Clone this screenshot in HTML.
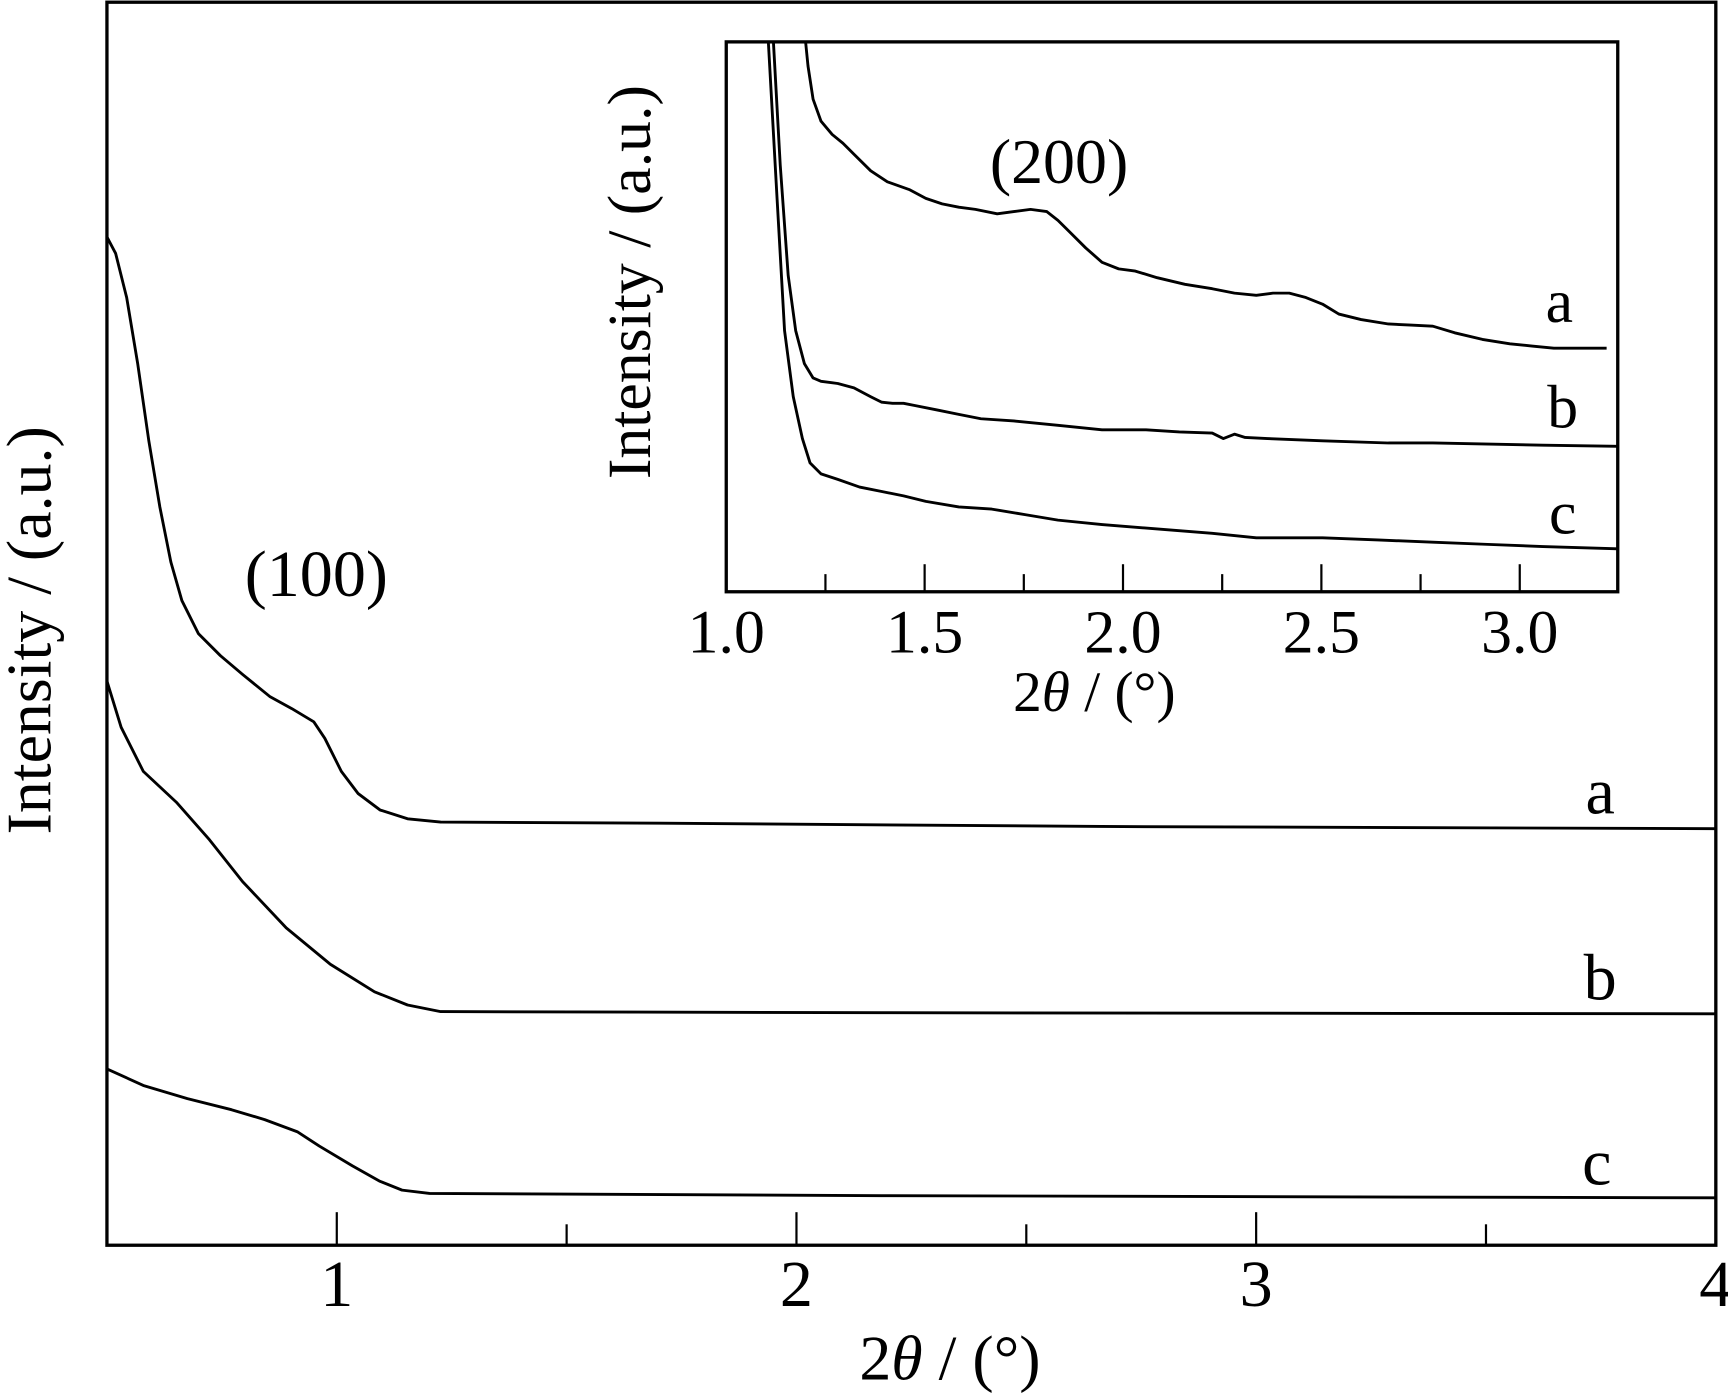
<!DOCTYPE html>
<html><head><meta charset="utf-8"><style>
html,body{margin:0;padding:0;background:#fff;}
svg{display:block;font-family:"Liberation Serif",serif;}
</style></head><body>
<svg id="chart" width="1728" height="1394" viewBox="0 0 1568 1265" xmlns="http://www.w3.org/2000/svg">
<g id="main"></g>
<g id="inset"></g>
</svg>
<script>
// main plot data
const mainTicks = [1, 2, 3, 4];
const mainMinorTicks = [1.5, 2.5, 3.5];
const mainAX = [0.5,0.519,0.543,0.567,0.591,0.615,0.639,0.663,0.699,0.747,0.795,0.854,0.902,0.950,0.974,1.010,1.046,1.094,1.154,1.226,1.705,2.663,4.0];
const mainAY = [915,900,860,800,730,670,620,585,555,535,518,498,487,475,460,430,410,395,387,384,383,380,378];
const mainBX = [0.5,0.531,0.579,0.651,0.723,0.795,0.890,0.986,1.082,1.154,1.226,2.184,4.0];
const mainBY = [512,470,430,402,368,330,288,255,230,218,212,211,210];
const mainCX = [0.5,0.579,0.675,0.771,0.843,0.914,0.962,1.034,1.094,1.142,1.202,2.184,4.0];
const mainCY = [160,145,133,123,114,103,90,72,58,50,47,45,43];
// inset data
const insetTicks = [1.0, 1.5, 2.0, 2.5, 3.0];
const insetMinorTicks = [1.25, 1.75, 2.25, 2.75];
const insetTickLabels = ["1.0","1.5","2.0","2.5","3.0"];
const inAX = [1.200,1.206,1.219,1.239,1.267,1.294,1.322,1.364,1.406,1.461,1.503,1.544,1.586,1.628,1.683,1.725,1.767,1.808,1.836,1.864,1.906,1.947,1.989,2.031,2.086,2.156,2.225,2.281,2.336,2.378,2.419,2.461,2.503,2.544,2.600,2.669,2.725,2.781,2.836,2.906,2.975,3.031,3.086,3.219];
const inAY = [499,477,447,427,415,407,397,382,372,365,357,352,349,347,343,345,347,345,337,327,312,299,293,291,285,279,275,271,269,271,271,267,261,252,247,243,242,241,235,229,225,223,221,221];
const inBX = [1.119,1.136,1.156,1.175,1.197,1.219,1.239,1.281,1.322,1.364,1.392,1.419,1.447,1.475,1.531,1.586,1.642,1.725,1.836,1.947,2.058,2.142,2.225,2.253,2.281,2.308,2.364,2.503,2.669,2.781,3.058,3.247];
const inBY = [499,387,287,237,207,194,191,189,185,177,172,171,171,169,165,161,157,155,151,147,147,145,144,139,143,140,139,137,135,135,133,132];
const inCX = [1.106,1.128,1.147,1.169,1.192,1.211,1.239,1.281,1.336,1.392,1.447,1.503,1.586,1.669,1.753,1.836,1.947,2.086,2.225,2.336,2.503,2.642,2.781,2.919,3.058,3.247];
const inCY = [499,357,237,177,139,117,107,102,95,91,87,82,77,75,70,65,61,57,53,49,49,47,45,43,41,39];

const NS = "http://www.w3.org/2000/svg";
function mk(parent, tag, attrs, text) {
  const e = document.createElementNS(NS, tag);
  for (const k in attrs) e.setAttribute(k, attrs[k]);
  if (text !== undefined) e.textContent = text;
  parent.appendChild(e);
  return e;
}
function plot(g, cfg) {
  const sx = v => cfg.x0 + (v - cfg.d0) / (cfg.d1 - cfg.d0) * (cfg.x1 - cfg.x0);
  const sy = v => cfg.yb - (v - cfg.r0) / (cfg.r1 - cfg.r0) * (cfg.yb - cfg.yt);
  const f = mk(g, "rect", {x: cfg.x0, y: cfg.yt, width: cfg.x1 - cfg.x0, height: cfg.yb - cfg.yt, fill: "none", stroke: "#000", "stroke-width": 3});
  
  
  cfg.ticks.forEach((t, i) => {
    const l = mk(g, "line", {x1: sx(t), x2: sx(t), y1: cfg.yb, y2: cfg.yb - cfg.major, stroke: "#000", "stroke-width": 2});
    
    
    const tx = mk(g, "text", {x: sx(t), y: cfg.labY, "text-anchor": "middle", "font-size": cfg.fs}, cfg.labels[i]);
    
    
  });
  cfg.minor.forEach(t => {
    const l = mk(g, "line", {x1: sx(t), x2: sx(t), y1: cfg.yb, y2: cfg.yb - cfg.minorLen, stroke: "#000", "stroke-width": 2});
    
    
  });
  cfg.series.forEach(s => {
    const pts = s.x.map((v, i) => sx(v).toFixed(1) + "," + sy(s.y[i]).toFixed(1)).join(" ");
    const p = mk(g, "polyline", {points: pts, fill: "none", stroke: "#000", "stroke-width": 2.6, "stroke-linejoin": "round"});
    
    
  });
}
const gm = document.getElementById("main");
plot(gm, {name: "main", x0: 97, x1: 1557, d0: 0.5, d1: 4, yt: 2, yb: 1130, r0: 0, r1: 1128,
  ticks: mainTicks, labels: mainTicks.map(String), minor: mainMinorTicks, major: 30, minorLen: 19, labY: 1185, fs: 60,
  series: [{n: "a", x: mainAX, y: mainAY}, {n: "b", x: mainBX, y: mainBY}, {n: "c", x: mainCX, y: mainCY}]});
const gi = document.getElementById("inset");
plot(gi, {name: "inset", x0: 659, x1: 1468, d0: 1.0, d1: 3.247, yt: 38, yb: 537, r0: 0, r1: 499,
  ticks: insetTicks, labels: insetTickLabels, minor: insetMinorTicks, major: 25, minorLen: 16, labY: 592, fs: 56,
  series: [{n: "a", x: inAX, y: inAY}, {n: "b", x: inBX, y: inBY}, {n: "c", x: inCX, y: inCY}]});
</script>
<svg style="position:absolute;left:0;top:0" width="1728" height="1394" viewBox="0 0 1568 1265" xmlns="http://www.w3.org/2000/svg" font-family="Liberation Serif, serif">
<text x="287" y="541" font-size="60" text-anchor="middle">(100)</text>
<text x="1452" y="738" font-size="60" text-anchor="middle">a</text>
<text x="1452" y="907" font-size="60" text-anchor="middle">b</text>
<text x="1449" y="1075" font-size="60" text-anchor="middle">c</text>
<text x="862" y="1252" font-size="58" text-anchor="middle">2<tspan font-style="italic">θ</tspan> / (°)</text>
<text transform="translate(46,572) rotate(-90)" font-size="58" text-anchor="middle">Intensity / (a.u.)</text>
<text x="961" y="166" font-size="58" text-anchor="middle">(200)</text>
<text x="1415" y="292" font-size="56" text-anchor="middle">a</text>
<text x="1418" y="388" font-size="56" text-anchor="middle">b</text>
<text x="1418" y="484" font-size="56" text-anchor="middle">c</text>
<text x="993" y="645" font-size="52" text-anchor="middle">2<tspan font-style="italic">θ</tspan> / (°)</text>
<text transform="translate(590,256) rotate(-90)" font-size="56" text-anchor="middle">Intensity / (a.u.)</text>
</svg>
</body></html>
